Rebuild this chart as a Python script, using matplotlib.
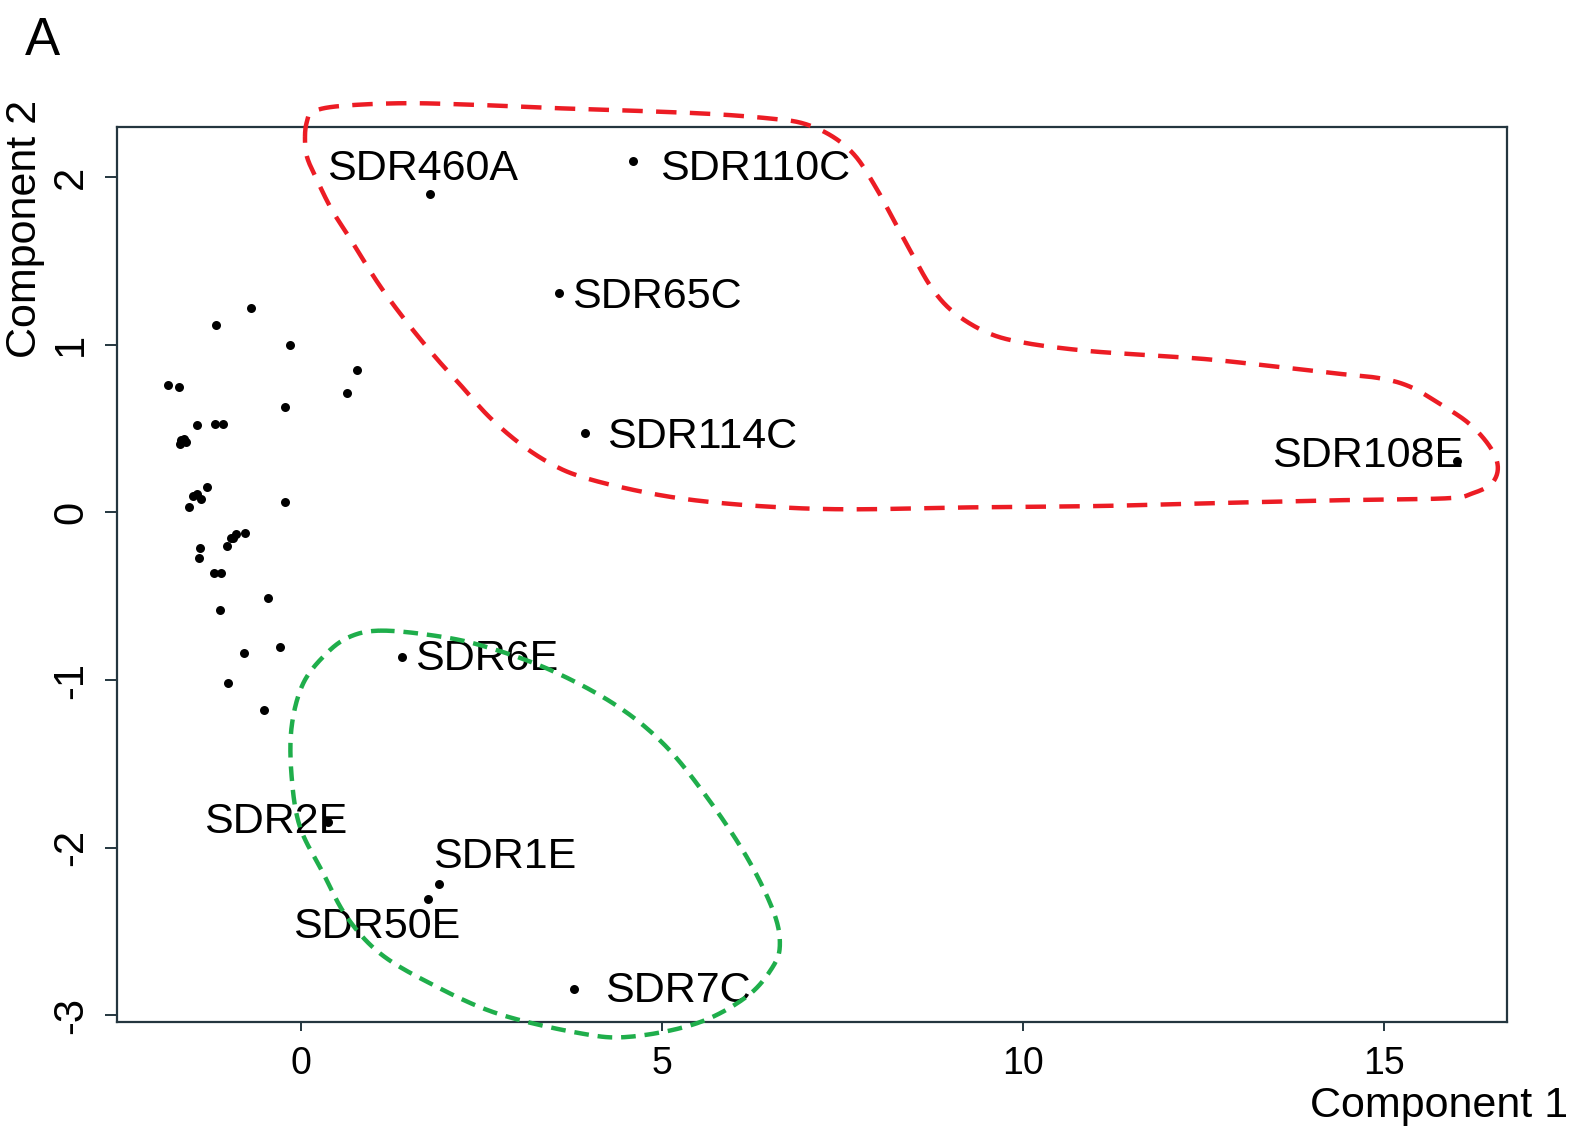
import numpy as np
import matplotlib
matplotlib.use("Agg")
import matplotlib.pyplot as plt

plt.rcParams['font.family'] = ['Liberation Sans', 'DejaVu Sans']

# ---- data ----
labels = ["SDR460A", "SDR110C", "SDR65C", "SDR114C", "SDR108E",
          "SDR6E", "SDR2E", "SDR1E", "SDR50E", "SDR7C"]
lab_x = [1.787, 4.60, 3.572, 3.934, 16.02, 1.399, 0.374, 1.911, 1.763, 3.785]
lab_y = [1.899, 2.097, 1.310, 0.476, 0.307, -0.860, -1.845, -2.218, -2.306, -2.843]

# text anchor (left, baseline) for each label
txt_x = [0.371, 4.976, 3.763, 4.250, 13.46, 1.583, -1.335, 1.828, -0.111, 4.215]
txt_y = [1.984, 1.984, 1.218, 0.383, 0.273, -0.940, -1.914, -2.123, -2.541, -2.919]

other_x = [-0.69, -1.17, -0.15, 0.78, -1.84, -1.68, 0.64, -0.21, -1.44, -1.18, -1.07,
           -1.66, -1.62, -1.59, -1.67, -1.30, -1.49, -1.44, -1.38, -1.54, -0.21,
           -0.77, -0.90, -0.94, -0.97, -1.02, -1.39, -1.41, -1.20, -1.11, -0.45,
           -1.12, -0.29, -0.78, -1.00, -0.51]
other_y = [1.22, 1.12, 1.00, 0.85, 0.76, 0.75, 0.71, 0.63, 0.52, 0.53, 0.53,
           0.43, 0.44, 0.42, 0.41, 0.15, 0.10, 0.11, 0.08, 0.03, 0.06,
           -0.12, -0.13, -0.15, -0.15, -0.20, -0.21, -0.27, -0.36, -0.36, -0.51,
           -0.58, -0.80, -0.84, -1.02, -1.18]

# hand-drawn group outlines (control points, data coords)
red_x = [0.060, 0.087, 0.170, 0.544, 1.445, 2.497, 3.563, 4.616, 5.683, 6.472, 6.957,
         7.372, 7.691, 7.961, 8.162, 8.439, 8.744, 9.062, 9.533, 10.059, 10.877,
         11.694, 12.566, 13.439, 14.311, 14.948, 15.364, 15.765, 16.181, 16.472,
         16.583, 16.500, 16.237, 15.890, 14.602, 12.857, 11.105, 9.353, 7.608,
         6.472, 5.420, 4.616, 3.882, 3.453, 3.032, 2.608, 2.234, 1.860, 1.445,
         1.071, 0.697, 0.433, 0.226, 0.087]
red_y = [2.242, 2.332, 2.391, 2.425, 2.442, 2.431, 2.412, 2.397, 2.378, 2.352, 2.322,
         2.242, 2.123, 1.944, 1.787, 1.566, 1.338, 1.189, 1.069, 1.010, 0.965,
         0.940, 0.914, 0.874, 0.831, 0.801, 0.751, 0.652, 0.532, 0.393,
         0.273, 0.174, 0.115, 0.085, 0.075, 0.058, 0.039, 0.031, 0.019,
         0.035, 0.075, 0.134, 0.214, 0.294, 0.413, 0.572, 0.751, 0.930, 1.149,
         1.369, 1.626, 1.805, 1.984, 2.123]
green_x = [1.098, 1.791, 2.483, 3.407, 4.325, 5.018, 5.623, 6.177, 6.541, 6.638, 6.541,
           6.177, 5.485, 4.561, 3.868, 2.715, 1.791, 1.098, 0.637, 0.313, -0.010,
           -0.125, -0.125, 0.036, 0.360, 0.683]
green_y = [-0.705, -0.731, -0.791, -0.930, -1.138, -1.377, -1.696, -2.054, -2.372, -2.570,
           -2.710, -2.889, -3.048, -3.128, -3.107, -2.988, -2.809, -2.630, -2.412, -2.153,
           -1.875, -1.576, -1.278, -1.019, -0.840, -0.741]

xticks = [0, 5, 10, 15]
yticks = [-3, -2, -1, 0, 1, 2]


def closed_spline(xs, ys, n=20):
    P = np.column_stack([xs, ys])
    m = len(P)
    out = []
    for i in range(m):
        p0, p1, p2, p3 = P[(i - 1) % m], P[i], P[(i + 1) % m], P[(i + 2) % m]
        t = np.linspace(0, 1, n, endpoint=False)[:, None]
        c = 0.5 * ((2 * p1) + (-p0 + p2) * t + (2 * p0 - 5 * p1 + 4 * p2 - p3) * t ** 2
                   + (-p0 + 3 * p1 - 3 * p2 + p3) * t ** 3)
        out.append(c)
    out = np.vstack(out)
    out = np.vstack([out, out[:1]])
    return out[:, 0], out[:, 1]


fig = plt.figure(figsize=(15.78, 11.29), dpi=100)
ax = fig.add_axes([117 / 1578, 1 - 1022 / 1129, (1507 - 117) / 1578, (1022 - 127) / 1129])
ax.set_xlim(-2.544, 16.71)
ax.set_ylim(-3.04, 2.30)

ax.scatter(other_x, other_y, s=42, color='black', zorder=3, linewidths=0)
ax.scatter(lab_x, lab_y, s=42, color='black', zorder=3, linewidths=0)
for t, x, y in zip(labels, txt_x, txt_y):
    ax.text(x, y, t, fontsize=31, ha='left', va='baseline', color='black', zorder=4)

rx, ry = closed_spline(red_x, red_y)
ax.plot(rx, ry, color='#ec1c24', lw=3.2, dashes=(4.6, 3.0), clip_on=False, zorder=5,
        dash_capstyle='butt')
gx, gy = closed_spline(green_x, green_y)
ax.plot(gx, gy, color='#1fae4b', lw=3.2, dashes=(3.3, 2.0), clip_on=False, zorder=5,
        dash_capstyle='butt')

spine_col = '#24363f'
for s in ax.spines.values():
    s.set_color(spine_col)
    s.set_linewidth(1.6)

ax.set_xticks(xticks)
ax.set_xticklabels([str(v) for v in xticks])
ax.set_yticks(yticks)
ax.set_yticklabels([str(v) for v in yticks])
ax.tick_params(axis='x', direction='out', length=6.5, width=1.4, color=spine_col,
               labelsize=27, pad=10.5)
ax.tick_params(axis='y', direction='out', length=8.6, width=1.4, color=spine_col,
               labelsize=30, pad=10, labelrotation=90)
for lab in ax.get_yticklabels():
    lab.set_va('center')

fig.text(1568 / 1578, 1 - 1117 / 1129, 'Component 1', fontsize=31, ha='right', va='baseline')
fig.text(5 / 1578, 1 - 100 / 1129, 'Component 2', fontsize=31, rotation=90,
         ha='left', va='top')
fig.text(25 / 1578, 1 - 55 / 1129, 'A', fontsize=38, ha='left', va='baseline')

fig.savefig('out.png', dpi=100)
